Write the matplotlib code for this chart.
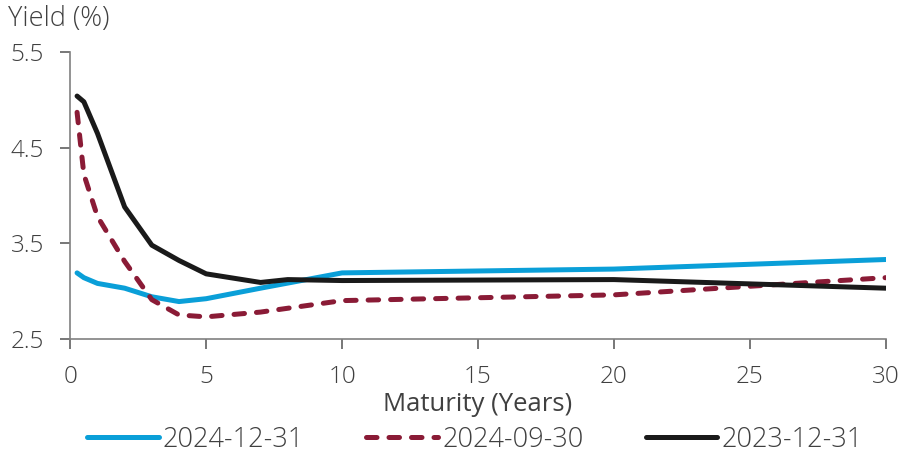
import matplotlib
matplotlib.use("Agg")
import matplotlib.pyplot as plt

plt.rcParams['font.family'] = ['Open Sans', 'DejaVu Sans']
plt.rcParams['font.weight'] = 'light'

mat_blue = [0.25, 0.5, 1, 2, 3, 4, 5, 7, 10, 20, 30]
y_blue = [3.19, 3.14, 3.08, 3.03, 2.94, 2.89, 2.92, 3.03, 3.19, 3.23, 3.33]

mat_red = [0.25, 0.5, 1, 2, 3, 4, 5, 7, 10, 20, 30]
y_red = [4.87, 4.22, 3.78, 3.31, 2.91, 2.75, 2.73, 2.78, 2.90, 2.96, 3.14]

mat_black = [0.25, 0.5, 1, 2, 3, 4, 5, 7, 8, 10, 20, 30]
y_black = [5.04, 4.98, 4.65, 3.88, 3.48, 3.32, 3.18, 3.09, 3.12, 3.11, 3.12, 3.03]

labels = ['2024-12-31', '2024-09-30', '2023-12-31']
colors = ['#0A9FD8', '#8A1B36', '#1A1A1A']
xticks = [0, 5, 10, 15, 20, 25, 30]
yticks = [2.5, 3.5, 4.5, 5.5]

text_color = '#404040'
fig = plt.figure(figsize=(9.01, 4.53), dpi=100)
ax = fig.add_axes([0.078, 0.252, 0.905, 0.633])

lw = 3.6
ax.plot(mat_blue, y_blue, color=colors[0], lw=lw, label=labels[0], solid_capstyle='round')
ax.plot(mat_red, y_red, color=colors[1], lw=lw, ls=(0, (2.1, 2.4)), label=labels[1], dash_capstyle='round')
ax.plot(mat_black, y_black, color=colors[2], lw=lw, label=labels[2], solid_capstyle='round')

ax.set_xlim(0, 30)
ax.set_ylim(2.5, 5.5)
ax.set_xticks(xticks)
ax.set_yticks(yticks)
ax.set_yticklabels([f'{v:.1f}' for v in yticks])
for s in ['top', 'right']:
    ax.spines[s].set_visible(False)
for s in ['left', 'bottom']:
    ax.spines[s].set_color('#808080')
    ax.spines[s].set_linewidth(1.2)
ax.tick_params(axis='both', colors='#606060', labelcolor=text_color, labelsize=17.5, length=7, width=1.2, direction='out')
ax.tick_params(axis='x', pad=12)
ax.tick_params(axis='y', pad=12)

ax.set_xlabel('Maturity (Years)', fontsize=18.5, color=text_color, labelpad=2)
fig.text(0.009, 0.958, 'Yield (%)', fontsize=19.5, color=text_color, va='center', ha='left')

leg = fig.legend(loc='lower center', bbox_to_anchor=(0.527, -0.055), ncol=3, frameon=False,
                 fontsize=19.5, handlelength=2.65, columnspacing=2.3, handletextpad=0.15)
for t in leg.get_texts():
    t.set_color(text_color)

fig.savefig('out.png', dpi=100)
